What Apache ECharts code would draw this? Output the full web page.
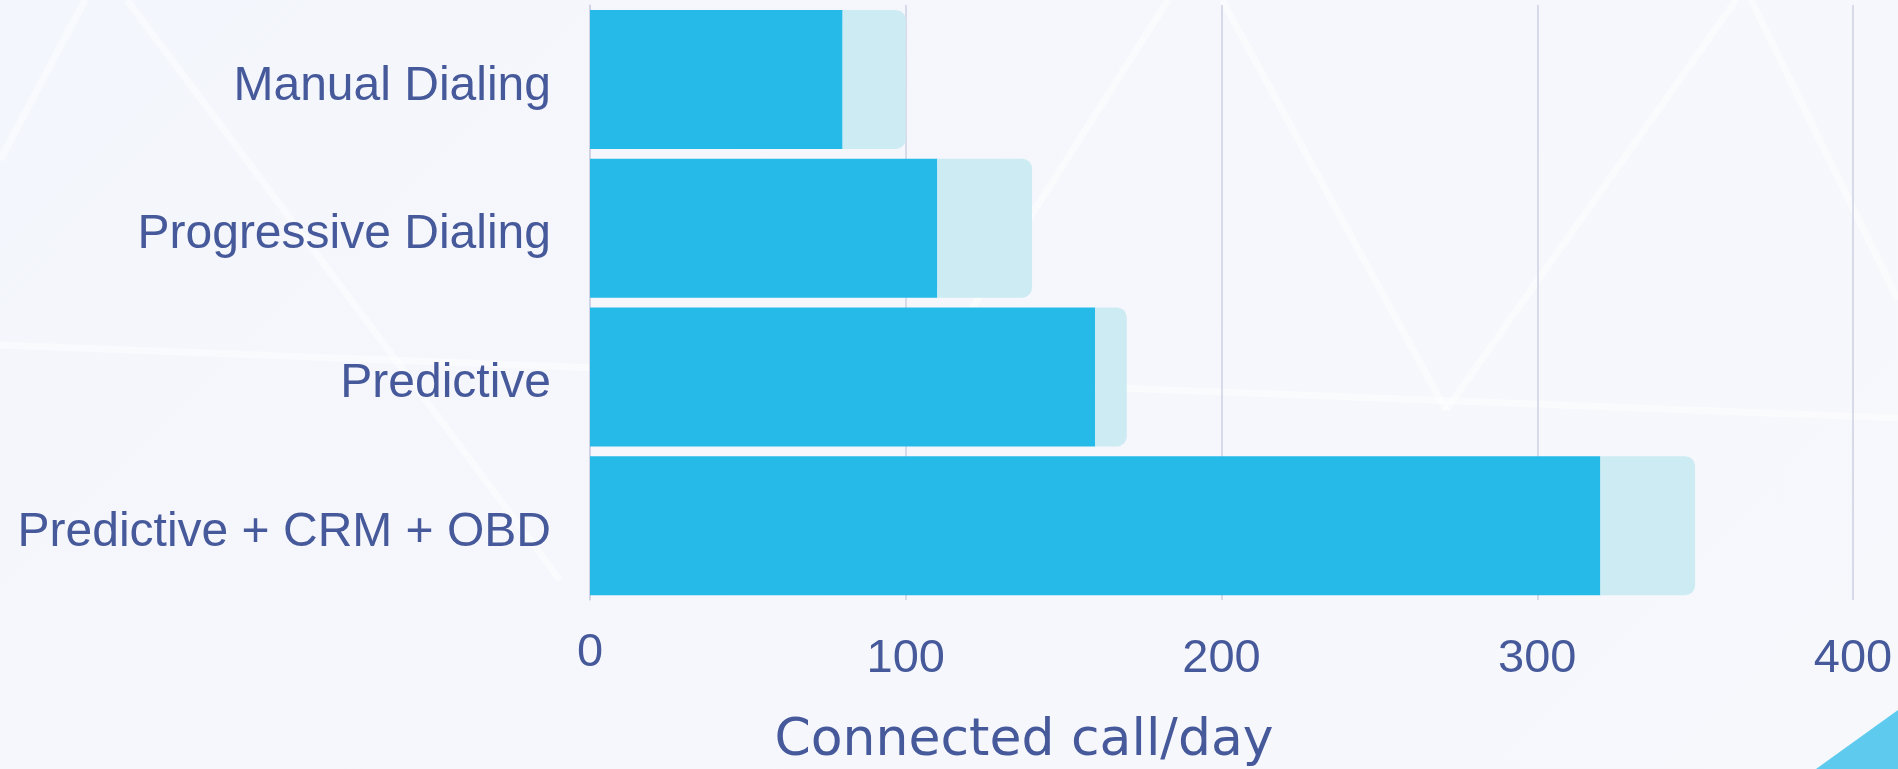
<!DOCTYPE html>
<html>
<head>
<meta charset="utf-8">
<script src="https://cdn.jsdelivr.net/npm/echarts@6/dist/echarts.min.js"></script>
<style>
html,body{margin:0;padding:0;width:1898px;height:769px;overflow:hidden;}
#c{width:1898px;height:769px;background:linear-gradient(135deg,#f3f6fc 0%,#f6f7fc 50%,#f7f8fc 100%);}
</style>
</head>
<body>
<div id="c"></div>
<script>
const categories = ['Manual Dialing', 'Progressive Dialing', 'Predictive', 'Predictive + CRM + OBD'];
const connectedCalls = [80, 110, 160, 320];
const extraCalls = [20, 30, 10, 30];
const xTicks = [0, 100, 200, 300, 400];
const axisTitle = 'Connected call/day';

const textColor = '#46599a';
const chart = echarts.init(document.getElementById('c'), null, {renderer: 'canvas'});

const bgLines = [
  [[0,160],[85,0]],
  [[127,0],[560,580]],
  [[1168,0],[914,400]],
  [[1222,0],[1446,410]],
  [[1736,0],[1446,410]],
  [[1751,0],[1898,300]],
  [[0,345],[1898,418]]
];

chart.setOption({
  backgroundColor: 'transparent',
  animation: false,
  grid: {left: 590, right: 45, top: 5, bottom: 169, containLabel: false},
  xAxis: {
    type: 'value',
    min: xTicks[0],
    max: xTicks[xTicks.length - 1],
    interval: 100,
    axisLine: {show: false},
    axisTick: {show: false},
    splitLine: {show: true, lineStyle: {color: '#ccd0e3', width: 1.5}},
    axisLabel: {
      margin: 30,
      fontFamily: 'Liberation Sans',
      fontSize: 47,
      color: textColor,
      formatter: function (v) { return v === 0 ? '{z|0}' : '{n|' + v + '}'; },
      rich: {
        z: {fontFamily: 'Liberation Sans', fontSize: 47, color: textColor},
        n: {fontFamily: 'Liberation Sans', fontSize: 47, color: textColor, padding: [6, 0, 0, 0]}
      }
    }
  },
  yAxis: {
    type: 'category',
    data: categories,
    inverse: true,
    axisLine: {show: true, lineStyle: {color: '#ccd0e3', width: 1.5}},
    axisTick: {show: false},
    splitLine: {show: false},
    axisLabel: {
      margin: 39, fontFamily: 'Liberation Sans', fontSize: 48, color: textColor,
      formatter: function (v) { return '{a|' + v + '}'; },
      rich: {a: {fontFamily: 'Liberation Sans', fontSize: 48, color: textColor, padding: [14, 0, 0, 0]}}
    }
  },
  graphic: [
    ...bgLines.map(l => ({
      type: 'line', silent: true, z: -10,
      shape: {x1: l[0][0], y1: l[0][1], x2: l[1][0], y2: l[1][1]},
      style: {stroke: 'rgba(255,255,255,0.45)', lineWidth: 7}
    })),
    {
      type: 'polygon', silent: true,
      shape: {points: [[1816, 769], [1898, 710], [1898, 769]]},
      style: {fill: '#5ecbee'}
    },
    {
      type: 'text', silent: true,
      style: {
        x: 1024, y: 767, text: axisTitle, textAlign: 'center', textVerticalAlign: 'bottom',
        fontFamily: 'DejaVu Sans', fontSize: 52, fill: textColor
      }
    }
  ],
  series: [
    {
      type: 'bar', stack: 'total', name: 'Connected',
      data: connectedCalls, barWidth: 139,
      itemStyle: {color: '#25bae7'}
    },
    {
      type: 'bar', stack: 'total', name: 'Extra',
      data: extraCalls, barWidth: 139,
      itemStyle: {color: '#cdebf3', borderRadius: [0, 10, 10, 0]}
    }
  ]
});
</script>
</body>
</html>
